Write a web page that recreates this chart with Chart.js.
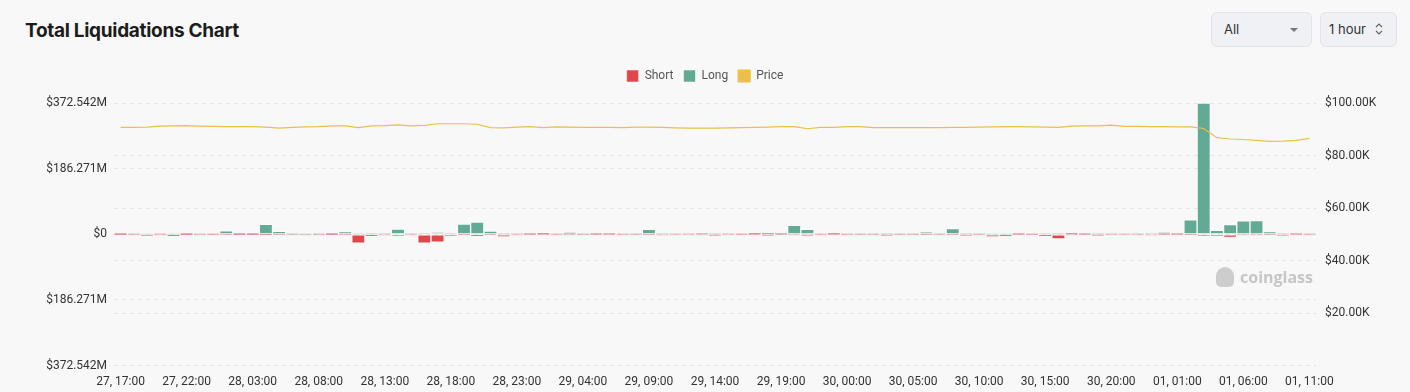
<!DOCTYPE html>
<html>
<head>
<meta charset="utf-8">
<script src="https://cdn.jsdelivr.net/npm/chart.js@4.4.1/dist/chart.umd.min.js"></script>
<style>
  html, body { margin: 0; padding: 0; background: #f8f8f8; width: 1410px; height: 392px; overflow: hidden; font-family: Inter, "Noto Sans", sans-serif; }
  #title { position: absolute; left: 25px; top: 19px; font-size: 19px; font-weight: 700; color: #1c1c1c; letter-spacing: -0.3px; }
  .sel { position: absolute; top: 12px; height: 35px; box-sizing: border-box; border: 1px solid #e2e4e8; border-radius: 6px; background: #eff1f4; font-size: 13px; color: #333; line-height: 33px; padding-left: 12px; }
  #sel1 { left: 1211px; width: 101px; }
  #sel2 { left: 1320px; width: 77px; padding-left: 8px; }
  #caret { position: absolute; left: 1290px; top: 28px; width: 0; height: 0; border-left: 4px solid transparent; border-right: 4px solid transparent; border-top: 4px solid #777; }
  #chev { position: absolute; left: 1375px; top: 22px; }
  #wrap { position: absolute; left: 0; top: 60px; width: 1410px; height: 330px; }
  #wm { position: absolute; left: 1216px; top: 266px; font-size: 16px; font-weight: 700; color: #c6c6c6; font-family: "Open Sans", sans-serif; }
  #wm span.ic { display: inline-block; width: 18px; height: 20px; background: #cdcdcd; border-radius: 9px 9px 5px 5px; vertical-align: -4px; margin-right: 6px; }
</style>
</head>
<body>
<div id="title">Total Liquidations Chart</div>
<div class="sel" id="sel1">All</div>
<div id="caret"></div>
<div class="sel" id="sel2">1 hour</div>
<svg id="chev" width="8" height="14" viewBox="0 0 8 14"><path d="M1 5 L4 2 L7 5 M1 9 L4 12 L7 9" fill="none" stroke="#666" stroke-width="1.2"/></svg>
<div id="wrap"><canvas id="c"></canvas></div>
<div id="wm"><span class="ic"></span>coinglass</div>
<script>
const categories = [
 "27, 17:00","27, 18:00","27, 19:00","27, 20:00","27, 21:00","27, 22:00","27, 23:00",
 "28, 00:00","28, 01:00","28, 02:00","28, 03:00","28, 04:00","28, 05:00","28, 06:00","28, 07:00","28, 08:00","28, 09:00","28, 10:00","28, 11:00","28, 12:00","28, 13:00","28, 14:00","28, 15:00","28, 16:00","28, 17:00","28, 18:00","28, 19:00","28, 20:00","28, 21:00","28, 22:00","28, 23:00",
 "29, 00:00","29, 01:00","29, 02:00","29, 03:00","29, 04:00","29, 05:00","29, 06:00","29, 07:00","29, 08:00","29, 09:00","29, 10:00","29, 11:00","29, 12:00","29, 13:00","29, 14:00","29, 15:00","29, 16:00","29, 17:00","29, 18:00","29, 19:00","29, 20:00","29, 21:00","29, 22:00","29, 23:00",
 "30, 00:00","30, 01:00","30, 02:00","30, 03:00","30, 04:00","30, 05:00","30, 06:00","30, 07:00","30, 08:00","30, 09:00","30, 10:00","30, 11:00","30, 12:00","30, 13:00","30, 14:00","30, 15:00","30, 16:00","30, 17:00","30, 18:00","30, 19:00","30, 20:00","30, 21:00","30, 22:00","30, 23:00",
 "01, 00:00","01, 01:00","01, 02:00","01, 03:00","01, 04:00","01, 05:00","01, 06:00","01, 07:00","01, 08:00","01, 09:00","01, 10:00","01, 11:00"
];
// Long liquidations, millions USD
const longM = [
 2,0.8,0.5,0.8,0.5,2,0.8,1,9.5,2,
 2,28,8.5,0.8,0.5,0.8,2,8,0.5,0.8,
 1,15,1.5,1.5,6,1.5,29,35,9,0.8,
 1.5,2,2.5,1,5,1,2,2,0.8,1,
 14,1,1.5,1.5,3,0.8,1.5,1.5,2.5,2.5,
 2,25.5,14,0.8,2.5,1.2,1.2,1.2,0.8,0.8,
 1.2,6.5,1.2,16,1.5,0.8,0.5,0.5,2,1.5,
 1.5,1,2.5,3,1,1.5,1.5,1.5,1.5,5.5,
 3,41,372.542,11.5,27.5,38,39,7.5,1.5,3,
 1
];
// Short liquidations, millions USD (magnitude)
const shortM = [
 0.5,1.5,5.5,1.5,5,0.8,1.5,1,1,0.5,
 0.5,0.8,1,1.5,2,2,0.5,1,25.5,6.5,
 2.5,5.5,2,25.5,22.5,5.5,1,5,1,7.5,
 1.5,1,1,1.5,1.5,1.5,1,1,1.5,1.5,
 1,2.5,1.5,1.5,1.5,3,1.5,1,1,3,
 1,2,3,1.5,1,1.5,1.5,1.5,3,1.5,
 1.5,1,1.5,1,3,1.5,7.5,4.5,1,1,
 6.5,13,2,1,3,1.5,1.5,2,2.5,1,
 1,1,5.5,5.5,8.5,1.5,1.5,1,3,1,
 2
];
// BTC price, thousands USD
const priceK = [
 90.7,90.7,90.8,91.2,91.3,91.4,91.2,91.1,91.0,91.0,
 91.0,90.8,90.4,90.7,90.9,91.0,91.3,91.3,90.6,91.3,
 91.4,91.7,91.3,91.5,92.1,92.1,92.1,91.9,90.6,90.5,
 90.8,91.0,90.6,90.9,90.8,90.7,90.7,90.7,90.6,90.8,
 90.8,90.7,90.5,90.4,90.4,90.4,90.5,90.6,90.7,90.8,
 91.0,91.0,90.2,90.7,90.7,91.0,91.0,90.6,90.6,90.6,
 90.6,90.6,90.6,90.7,90.7,90.8,90.9,91.0,91.0,90.9,
 90.8,90.7,91.2,91.3,91.3,91.6,91.1,91.1,91.0,91.0,
 90.9,90.9,90.3,86.8,86.3,86.1,85.8,85.4,85.5,85.8,
 86.5
];
const leftTicks = ["$372.542M","$186.271M","$0","$186.271M","$372.542M"];
const rightTicks = ["$20.00K","$40.00K","$60.00K","$80.00K","$100.00K"];

const M = 1e6;
const LMAX = 372.542;
const tickFont = { family: "Roboto, 'Liberation Sans', sans-serif", size: 12 };

const legendGap = {
  id: 'legendGap',
  beforeInit(chart) {
    const fit = chart.legend.fit;
    chart.legend.fit = function() { fit.bind(chart.legend)(); this.height += 11; };
  }
};

new Chart(document.getElementById('c'), {
  plugins: [legendGap],
  data: {
    labels: categories,
    datasets: [
      { type: 'line', label: 'Price', data: priceK.map(v => v * 1000), yAxisID: 'y1',
        borderColor: '#ecbf4a', backgroundColor: '#ecbf4a', borderWidth: 1.2, pointRadius: 0, tension: 0, order: 0 },
      { type: 'bar', label: 'Short', data: shortM.map(v => -v * M), yAxisID: 'y',
        backgroundColor: '#e0464b', borderColor: 'rgba(255,255,255,0.55)', borderWidth: 1, borderSkipped: false,
        barPercentage: 1, categoryPercentage: 1, order: 2 },
      { type: 'bar', label: 'Long', data: longM.map(v => v * M), yAxisID: 'y',
        backgroundColor: '#62aa94', borderColor: 'rgba(255,255,255,0.55)', borderWidth: 1, borderSkipped: false,
        barPercentage: 1, categoryPercentage: 1, order: 1 }
    ]
  },
  options: {
    responsive: true,
    maintainAspectRatio: false,
    animation: false,
    layout: { padding: { left: 0, right: 0, top: 0, bottom: 0 } },
    plugins: {
      legend: {
        display: true,
        position: 'top',
        align: 'center',
        labels: {
          boxWidth: 12, boxHeight: 12, padding: 10,
          color: '#555', font: { family: "Roboto, 'Liberation Sans', sans-serif", size: 12 },
          sort: (a, b) => ['Short','Long','Price'].indexOf(a.text) - ['Short','Long','Price'].indexOf(b.text)
        }
      },
      tooltip: { enabled: false }
    },
    scales: {
      x: {
        stacked: true,
        grid: { display: false },
        border: { display: false },
        ticks: {
          autoSkip: false, maxRotation: 0, minRotation: 0, color: '#333', font: tickFont, padding: 1,
          callback: function(v, i) { return i % 5 === 0 ? categories[i] : ''; }
        }
      },
      y: {
        position: 'left',
        stacked: true,
        min: -LMAX * M, max: LMAX * M,
        afterBuildTicks: function(s) { s.ticks = [-LMAX, -LMAX/2, 0, LMAX/2, LMAX].map(v => ({ value: v * M })); },
        afterFit: function(s) { s.width = 114; },
        grid: { color: '#e4e4e4', drawTicks: false },
        border: { display: false, dash: [4, 4] },
        ticks: {
          color: '#333', font: tickFont, padding: 7,
          callback: function(v, i) { return leftTicks[4 - i]; }
        }
      },
      y1: {
        position: 'right',
        stacked: false,
        min: 0, max: 100000,
        afterBuildTicks: function(s) { s.ticks = [20000, 40000, 60000, 80000, 100000].map(v => ({ value: v })); },
        afterFit: function(s) { s.width = 94; },
        grid: { color: '#e4e4e4', drawTicks: false },
        border: { display: false, dash: [4, 4] },
        ticks: {
          color: '#333', font: tickFont, padding: 9,
          callback: function(v, i) { return rightTicks[i]; }
        }
      }
    }
  }
});
</script>
</body>
</html>
